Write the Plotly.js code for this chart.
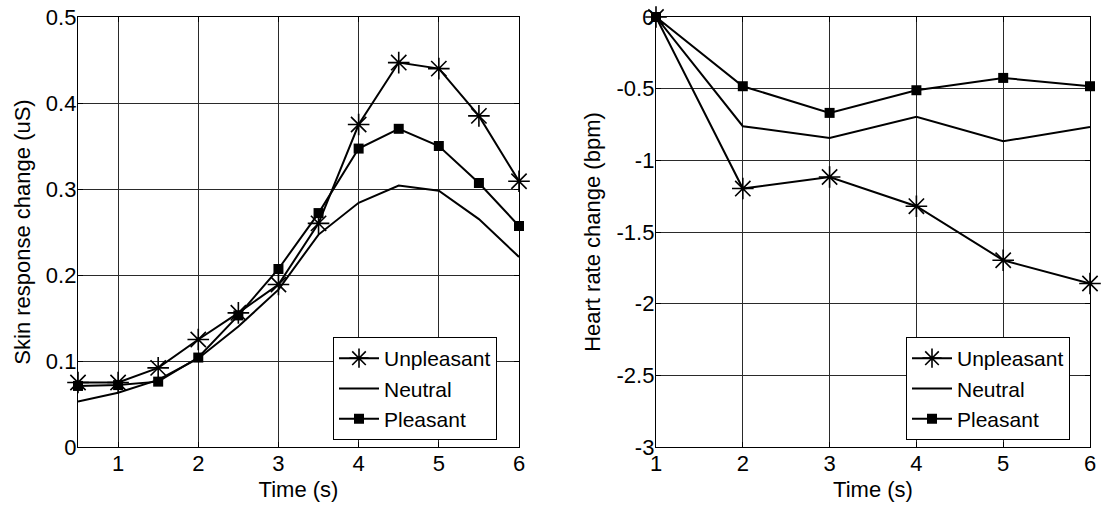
<!DOCTYPE html>
<html>
<head>
<meta charset="utf-8">
<script src="https://cdn.plot.ly/plotly-3.0.1.min.js"></script>
<style>html,body{margin:0;padding:0;background:#fff;}#chart{width:1102px;height:506px;}</style>
</head>
<body>
<div id="chart"></div>
<script>
// ---- data ----
const seriesNames = ["Unpleasant", "Neutral", "Pleasant"];

const timeSkin = [0.5, 1, 1.5, 2, 2.5, 3, 3.5, 4, 4.5, 5, 5.5, 6];
const skinUnpleasant = [0.075, 0.075, 0.092, 0.125, 0.156, 0.189, 0.260, 0.375, 0.447, 0.440, 0.385, 0.309];
const skinNeutral    = [0.053, 0.063, 0.078, 0.103, 0.140, 0.183, 0.247, 0.284, 0.304, 0.298, 0.265, 0.221];
const skinPleasant   = [0.071, 0.072, 0.076, 0.104, 0.153, 0.207, 0.272, 0.347, 0.370, 0.350, 0.307, 0.257];

const timeHR = [1, 2, 3, 4, 5, 6];
const hrUnpleasant = [0, -1.197, -1.116, -1.320, -1.697, -1.859];
const hrNeutral    = [0, -0.762, -0.844, -0.697, -0.867, -0.767];
const hrPleasant   = [0, -0.483, -0.669, -0.511, -0.425, -0.483];

const xTicksSkin = [1, 2, 3, 4, 5, 6];
const yTicksSkin = [0, 0.1, 0.2, 0.3, 0.4, 0.5];
const yTickTextSkin = ["0", "0.1", "0.2", "0.3", "0.4", "0.5"];
const xTicksHR = [1, 2, 3, 4, 5, 6];
const yTicksHR = [-3, -2.5, -2, -1.5, -1, -0.5, 0];
const yTickTextHR = ["-3", "-2.5", "-2", "-1.5", "-1", "-0.5", "0"];

// ---- styles ----
const FONT = "Liberation Sans, Arial, Helvetica, sans-serif";
const FS = 22;
const LFS = 21;
const styles = [
  {mode: "lines+markers", line: {color: "#000", width: 2}, marker: {symbol: "asterisk-open", size: 18, color: "#000", line: {color: "#000", width: 1.6}}},
  {mode: "lines", line: {color: "#000", width: 2}},
  {mode: "lines+markers", line: {color: "#000", width: 2}, marker: {symbol: "square", size: 10, color: "#000"}}
];

function mk(x, y, i, xa, ya, leg) {
  return Object.assign({
    type: "scatter", x: x, y: y, name: seriesNames[i],
    xaxis: xa, yaxis: ya, legend: leg, cliponaxis: false
  }, JSON.parse(JSON.stringify(styles[i])));
}

const traces = [
  mk(timeSkin, skinUnpleasant, 0, "x", "y", "legend"),
  mk(timeSkin, skinNeutral, 1, "x", "y", "legend"),
  mk(timeSkin, skinPleasant, 2, "x", "y", "legend"),
  mk(timeHR, hrUnpleasant, 0, "x2", "y2", "legend2"),
  mk(timeHR, hrNeutral, 1, "x2", "y2", "legend2"),
  mk(timeHR, hrPleasant, 2, "x2", "y2", "legend2")
];

function axisBase() {
  return {
    showline: true, linecolor: "#000", linewidth: 1.2, mirror: "ticks",
    ticks: "inside", ticklen: 5, tickwidth: 1, tickcolor: "#000",
    showgrid: true, gridcolor: "#2a2a2a", gridwidth: 1,
    zeroline: false, automargin: false,
    tickfont: {family: FONT, size: FS, color: "#000"},
    fixedrange: true
  };
}

const yDom = [(506 - 447) / 506, (506 - 17) / 506];

const layout = {
  width: 1102, height: 506,
  margin: {l: 0, r: 0, t: 0, b: 0},
  paper_bgcolor: "#fff", plot_bgcolor: "#fff",
  font: {family: FONT, size: FS, color: "#000"},
  showlegend: true,
  xaxis: Object.assign(axisBase(), {
    domain: [78 / 1102, 519 / 1102], range: [0.5, 6],
    tickmode: "array", tickvals: xTicksSkin, ticklabelstandoff: -4,
    title: {text: "Time (s)", font: {family: FONT, size: FS, color: "#000"}, standoff: 7},
    anchor: "y"
  }),
  yaxis: Object.assign(axisBase(), {
    domain: yDom, range: [0, 0.5],
    tickmode: "array", tickvals: yTicksSkin, ticktext: yTickTextSkin, ticklabelstandoff: -4,
    title: {text: "Skin response change (uS)", font: {family: FONT, size: FS, color: "#000"}, standoff: 9},
    anchor: "x"
  }),
  xaxis2: Object.assign(axisBase(), {
    domain: [656 / 1102, 1090 / 1102], range: [1, 6],
    tickmode: "array", tickvals: xTicksHR, ticklabelstandoff: -4,
    title: {text: "Time (s)", font: {family: FONT, size: FS, color: "#000"}, standoff: 7},
    anchor: "y2"
  }),
  yaxis2: Object.assign(axisBase(), {
    domain: yDom, range: [-3, 0],
    tickmode: "array", tickvals: yTicksHR, ticktext: yTickTextHR, ticklabelstandoff: -4,
    title: {text: "Heart rate change (bpm)", font: {family: FONT, size: FS, color: "#000"}, standoff: 9},
    anchor: "x2"
  }),
  legend: {
    x: 497 / 1102, y: (506 - 440) / 506, xanchor: "right", yanchor: "bottom",
    bgcolor: "#fff", bordercolor: "#000", borderwidth: 1,
    font: {family: FONT, size: LFS, color: "#000"},
    itemwidth: 40, tracegroupgap: 0
  },
  legend2: {
    x: 1070 / 1102, y: (506 - 440) / 506, xanchor: "right", yanchor: "bottom",
    bgcolor: "#fff", bordercolor: "#000", borderwidth: 1,
    font: {family: FONT, size: LFS, color: "#000"},
    itemwidth: 40, tracegroupgap: 0
  }
};

Plotly.newPlot("chart", traces, layout, {staticPlot: true, displayModeBar: false});
</script>
</body>
</html>
